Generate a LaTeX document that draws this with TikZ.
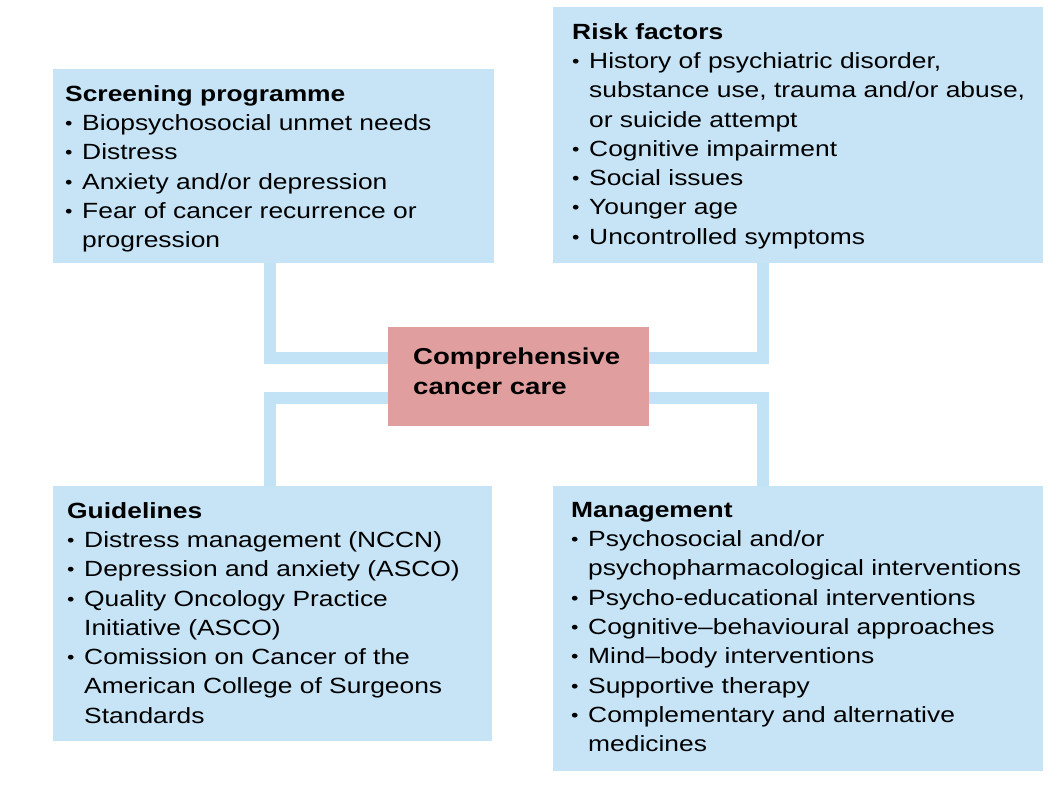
\documentclass[tikz,border=0pt]{standalone}
\usepackage{fontspec}
\setmainfont[FakeStretch=1.2]{Liberation Sans}
\definecolor{boxblue}{HTML}{C6E4F6}
\definecolor{linkblue}{HTML}{C2E2F6}
\definecolor{centre}{HTML}{E09E9F}
\newcommand{\bl}{\makebox[17pt][l]{\raisebox{1pt}{\scalebox{0.8}{\textbullet}}}}
\newcommand{\ct}{\hspace*{17pt}}
\begin{document}
\begin{tikzpicture}[x=1pt,y=-1pt,
  box/.style={draw=none,fill=boxblue,anchor=north west,inner sep=0pt},
  txt/.style={anchor=north west,align=left,inner sep=0pt,font=\fontsize{22}{29.3}\selectfont},
  link/.style={draw=linkblue,line width=12pt}]
\useasboundingbox (0,0) rectangle (1060,785);
\node[box,minimum width=441pt,minimum height=194pt] (scr) at (53,69) {};
\node[box,minimum width=490pt,minimum height=256pt] (risk) at (553,7) {};
\node[box,minimum width=439pt,minimum height=255pt] (gui) at (53,486) {};
\node[box,minimum width=490pt,minimum height=285pt] (man) at (553,486) {};
\coordinate (a1) at (270,263); \coordinate (a2) at (270,358);
\coordinate (b1) at (763,263); \coordinate (b2) at (763,358);
\coordinate (c1) at (270,486); \coordinate (c2) at (270,398);
\coordinate (d1) at (763,486); \coordinate (d2) at (763,398);
\draw[link] (a1) -- (a2) -- (400,358);
\draw[link] (b1) -- (b2) -- (640,358);
\draw[link] (c1) -- (c2) -- (400,398);
\draw[link] (d1) -- (d2) -- (640,398);
\node[fill=centre,anchor=north west,minimum width=261pt,minimum height=99pt,inner sep=0pt] (cc) at (388,327) {};
\node[txt,font=\fontsize{23}{30}\selectfont\bfseries] (cct) at (413,348) {Comprehensive\\cancer care};
\node[txt] (scrt) at (65,85) {\textbf{Screening programme}\\
\bl Biopsychosocial unmet needs\\
\bl Distress\\
\bl Anxiety and/or depression\\
\bl Fear of cancer recurrence or\\
\ct progression};
\node[txt] (riskt) at (572,23) {\textbf{Risk factors}\\
\bl History of psychiatric disorder,\\
\ct substance use, trauma and/or abuse,\\
\ct or suicide attempt\\
\bl Cognitive impairment\\
\bl Social issues\\
\bl Younger age\\
\bl Uncontrolled symptoms};
\node[txt] (guit) at (67,502) {\textbf{Guidelines}\\
\bl Distress management (NCCN)\\
\bl Depression and anxiety (ASCO)\\
\bl Quality Oncology Practice\\
\ct Initiative (ASCO)\\
\bl Comission on Cancer of the\\
\ct American College of Surgeons\\
\ct Standards};
\node[txt] (mant) at (571,502) {\textbf{Management}\\
\bl Psychosocial and/or\\
\ct psychopharmacological interventions\\
\bl Psycho-educational interventions\\
\bl Cognitive--behavioural approaches\\
\bl Mind--body interventions\\
\bl Supportive therapy\\
\bl Complementary and alternative\\
\ct medicines};
\end{tikzpicture}
\end{document}
